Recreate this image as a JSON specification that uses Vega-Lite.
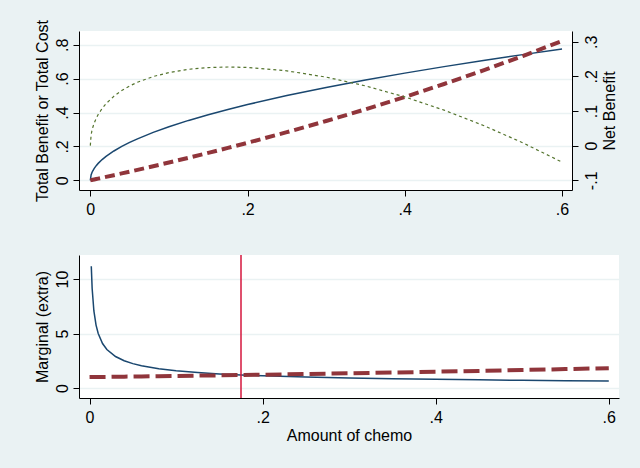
{
  "$schema": "https://vega.github.io/schema/vega-lite/v6.json",
  "background": "#eaf2f3",
  "padding": {"left": 33, "top": 19, "right": 22, "bottom": 25},
  "spacing": 37,
  "config": {
    "view": {"fill": "white", "stroke": null},
    "axis": {
      "labelFont": "Liberation Sans",
      "titleFont": "Liberation Sans",
      "labelFontSize": 16,
      "titleFontSize": 16,
      "titleFontWeight": "normal",
      "labelColor": "black",
      "titleColor": "black",
      "domainColor": "black",
      "tickColor": "black",
      "domainWidth": 1,
      "tickWidth": 1,
      "tickSize": 6,
      "gridColor": "#eaf2f3",
      "gridWidth": 1.5,
      "gridOpacity": 1
    }
  },
  "datasets": {
    "curves": [
      {"x": 0, "benefit": 0, "cost": 0, "net": 0, "mb": null, "mc": 1.0},
      {"x": 0.001, "benefit": 0.031623, "cost": 0.0010005, "net": 0.030622, "mb": null, "mc": 1.001},
      {"x": 0.002, "benefit": 0.04472, "cost": 0.002002, "net": 0.04272, "mb": 11.18, "mc": 1.002},
      {"x": 0.003, "benefit": 0.054772, "cost": 0.0030045, "net": 0.051768, "mb": 9.1287, "mc": 1.003},
      {"x": 0.005, "benefit": 0.07071, "cost": 0.005013, "net": 0.0657, "mb": 7.071, "mc": 1.005},
      {"x": 0.0075, "benefit": 0.086603, "cost": 0.0075282, "net": 0.079075, "mb": 5.7735, "mc": 1.0075},
      {"x": 0.01, "benefit": 0.1, "cost": 0.01005, "net": 0.08995, "mb": 5.0, "mc": 1.01005},
      {"x": 0.015, "benefit": 0.122474, "cost": 0.015113, "net": 0.107361, "mb": 4.0825, "mc": 1.0151},
      {"x": 0.02, "benefit": 0.14142, "cost": 0.0202, "net": 0.12122, "mb": 3.5355, "mc": 1.0202},
      {"x": 0.03, "benefit": 0.17321, "cost": 0.03045, "net": 0.14276, "mb": 2.8868, "mc": 1.03045},
      {"x": 0.04, "benefit": 0.2, "cost": 0.04081, "net": 0.15919, "mb": 2.5, "mc": 1.0408},
      {"x": 0.05, "benefit": 0.22361, "cost": 0.05127, "net": 0.17234, "mb": 2.2361, "mc": 1.0513},
      {"x": 0.06, "benefit": 0.244949, "cost": 0.061837, "net": 0.183112, "mb": 2.0412, "mc": 1.0618},
      {"x": 0.08, "benefit": 0.282843, "cost": 0.083287, "net": 0.199556, "mb": 1.7678, "mc": 1.0833},
      {"x": 0.1, "benefit": 0.31623, "cost": 0.10517, "net": 0.21106, "mb": 1.5811, "mc": 1.1052},
      {"x": 0.125, "benefit": 0.35355, "cost": 0.13315, "net": 0.2204, "mb": 1.4142, "mc": 1.1331},
      {"x": 0.15, "benefit": 0.3873, "cost": 0.16183, "net": 0.22546, "mb": 1.291, "mc": 1.1618},
      {"x": 0.175, "benefit": 0.41833, "cost": 0.19125, "net": 0.22708, "mb": 1.1952, "mc": 1.1912},
      {"x": 0.2, "benefit": 0.44721, "cost": 0.2214, "net": 0.22581, "mb": 1.118, "mc": 1.2214},
      {"x": 0.25, "benefit": 0.5, "cost": 0.28403, "net": 0.21597, "mb": 1.0, "mc": 1.284},
      {"x": 0.3, "benefit": 0.54772, "cost": 0.34986, "net": 0.19786, "mb": 0.91287, "mc": 1.3499},
      {"x": 0.35, "benefit": 0.59161, "cost": 0.41907, "net": 0.17254, "mb": 0.84515, "mc": 1.4191},
      {"x": 0.4, "benefit": 0.63246, "cost": 0.49182, "net": 0.14064, "mb": 0.79057, "mc": 1.4918},
      {"x": 0.45, "benefit": 0.67082, "cost": 0.56831, "net": 0.10251, "mb": 0.74536, "mc": 1.5683},
      {"x": 0.5, "benefit": 0.70711, "cost": 0.64872, "net": 0.05839, "mb": 0.70711, "mc": 1.6487},
      {"x": 0.55, "benefit": 0.74162, "cost": 0.73325, "net": 0.00837, "mb": 0.6742, "mc": 1.7333},
      {"x": 0.6, "benefit": 0.7746, "cost": 0.82212, "net": -0.04752, "mb": 0.6455, "mc": 1.8221}
    ],
    "optimum": [{"x": 0.175}]
  },
  "vconcat": [
    {
      "width": 493,
      "height": 159,
      "data": {"name": "curves"},
      "encoding": {
        "x": {
          "field": "x",
          "type": "quantitative",
          "scale": {"domain": [-0.0144, 0.6127], "nice": false, "zero": false},
          "axis": {
            "title": null,
            "values": [0, 0.2, 0.4, 0.6],
            "grid": false,
            "labelPadding": 5,
            "labelExpr": "datum.value == 0 ? '0' : substring(format(datum.value, '.1f'), 1)"
          }
        }
      },
      "layer": [
        {
          "layer": [
            {
              "mark": {"type": "line", "color": "#1a476f", "strokeWidth": 1.5},
              "encoding": {
                "y": {
                  "field": "benefit",
                  "type": "quantitative",
                  "scale": {"domain": [-0.057, 0.881], "nice": false, "zero": false},
                  "axis": {
                    "title": "Total Benefit or Total Cost",
                    "values": [0, 0.2, 0.4, 0.6, 0.8],
                    "grid": true,
                    "labelAngle": -90,
                    "labelAlign": "center",
                    "labelBaseline": "alphabetic",
                    "labelPadding": 6,
                    "titlePadding": 4,
                    "labelExpr": "datum.value == 0 ? '0' : substring(format(datum.value, '.1f'), 1)"
                  }
                }
              }
            },
            {
              "mark": {"type": "line", "color": "#90353b", "strokeWidth": 4, "strokeDash": [10, 5]},
              "encoding": {
                "y": {
                  "field": "cost",
                  "type": "quantitative",
                  "scale": {"domain": [-0.057, 0.881], "nice": false, "zero": false},
                  "axis": {
                    "title": "Total Benefit or Total Cost",
                    "values": [0, 0.2, 0.4, 0.6, 0.8],
                    "grid": true,
                    "labelAngle": -90,
                    "labelAlign": "center",
                    "labelBaseline": "alphabetic",
                    "labelPadding": 6,
                    "titlePadding": 4,
                    "labelExpr": "datum.value == 0 ? '0' : substring(format(datum.value, '.1f'), 1)"
                  }
                }
              }
            }
          ]
        },
        {
          "mark": {"type": "line", "color": "#55752f", "strokeWidth": 1.2, "strokeDash": [3, 3]},
          "encoding": {
            "y": {
              "field": "net",
              "type": "quantitative",
              "scale": {"domain": [-0.128, 0.331], "nice": false, "zero": false},
              "axis": {
                "orient": "right",
                "title": "Net Benefit",
                "values": [-0.1, 0, 0.1, 0.2, 0.3],
                "grid": false,
                "labelAngle": -90,
                "labelAlign": "center",
                "labelBaseline": "top",
                "labelPadding": 5,
                "titleAngle": -90,
                "titleBaseline": "top",
                "titlePadding": 2,
                "labelExpr": "datum.value < -0.001 ? '-' + substring(format(-datum.value, '.1f'), 1) : (abs(datum.value) < 0.001 ? '0' : substring(format(datum.value, '.1f'), 1))"
              }
            }
          }
        }
      ],
      "resolve": {"scale": {"y": "independent"}}
    },
    {
      "width": 540,
      "height": 143,
      "encoding": {
        "x": {
          "field": "x",
          "type": "quantitative",
          "scale": {"domain": [-0.0122, 0.6118], "nice": false, "zero": false},
          "axis": {
            "title": "Amount of chemo",
            "values": [0, 0.2, 0.4, 0.6],
            "grid": false,
            "labelPadding": 5,
            "titlePadding": 2,
            "labelExpr": "datum.value == 0 ? '0' : substring(format(datum.value, '.1f'), 1)"
          }
        }
      },
      "layer": [
        {
          "data": {"name": "curves"},
          "mark": {"type": "line", "color": "#1a476f", "strokeWidth": 1.5},
          "encoding": {
            "y": {
              "field": "mb",
              "type": "quantitative",
              "scale": {"domain": [-0.92, 12.21], "nice": false, "zero": false},
              "axis": {
                "title": "Marginal (extra)",
                "values": [0, 5, 10],
                "grid": true,
                "labelAngle": -90,
                "labelAlign": "center",
                "labelBaseline": "alphabetic",
                "labelPadding": 6,
                "titlePadding": 4
              }
            }
          }
        },
        {
          "data": {"name": "curves"},
          "mark": {"type": "line", "color": "#90353b", "strokeWidth": 4, "strokeDash": [16, 6]},
          "encoding": {
            "y": {
              "field": "mc",
              "type": "quantitative",
              "scale": {"domain": [-0.92, 12.21], "nice": false, "zero": false},
              "axis": {
                "title": "Marginal (extra)",
                "values": [0, 5, 10],
                "grid": true,
                "labelAngle": -90,
                "labelAlign": "center",
                "labelBaseline": "alphabetic",
                "labelPadding": 6,
                "titlePadding": 4
              }
            }
          }
        },
        {
          "data": {"name": "optimum"},
          "mark": {"type": "rule", "color": "#d4163c", "strokeWidth": 1.5},
          "encoding": {}
        }
      ]
    }
  ]
}
